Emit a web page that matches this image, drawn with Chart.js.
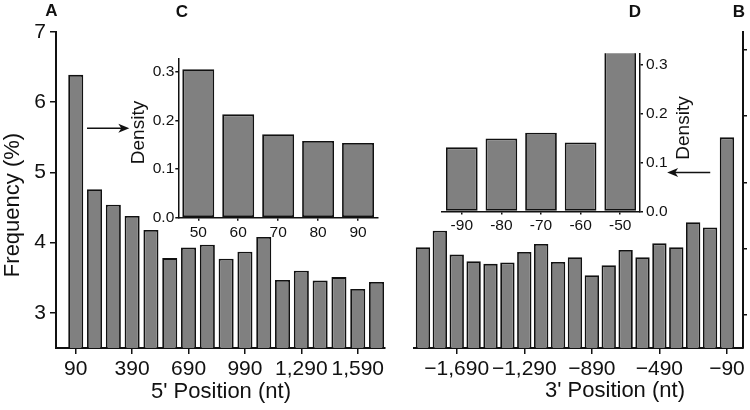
<!DOCTYPE html>
<html>
<head>
<meta charset="utf-8">
<script src="https://cdn.jsdelivr.net/npm/chart.js@4.4.0/dist/chart.umd.min.js"></script>
<style>
body{margin:0;background:#fff;}
#wrap{position:relative;width:750px;height:410px;overflow:hidden;}
canvas{position:absolute;}
#cA{left:0;top:0;}
#cB{left:392px;top:0;}
#cC{left:120px;top:40px;}
#cD{left:420px;top:30px;}
</style>
</head>
<body>
<div id="wrap">
<canvas id="cA" width="392" height="410"></canvas>
<canvas id="cB" width="358" height="410"></canvas>
<canvas id="cC" width="265" height="215"></canvas>
<canvas id="cD" width="280" height="220"></canvas>
</div>
<script>
// 5' end (panel A)
const posA = [90,190,290,390,490,590,690,790,890,990,1090,1190,1290,1390,1490,1590,1690];
const freqA = [6.39,4.76,4.54,4.38,4.18,3.78,3.93,3.97,3.77,3.87,4.08,3.47,3.60,3.46,3.51,3.34,3.44];
const ticksA = [90,390,690,990,1290,1590];

// 3' end (panel B)
const posB = [-1890,-1790,-1690,-1590,-1490,-1390,-1290,-1190,-1090,-990,-890,-790,-690,-590,-490,-390,-290,-190,-90];
const freqB = [4.02,4.27,3.91,3.81,3.77,3.79,3.95,4.07,3.80,3.87,3.60,3.75,3.98,3.87,4.08,4.02,4.40,4.32,5.68];
const ticksB = [-1690,-1290,-890,-490,-90];

const freqTicks = [3,4,5,6,7];

// insets
const catsC = ['50','60','70','80','90'];
const densC = [0.306,0.213,0.172,0.158,0.154];
const catsD = ['-90','-80','-70','-60','-50'];
const densD = [0.131,0.149,0.161,0.141,0.36];
const densTicks = [0,0.1,0.2,0.3];

const GRAY = '#808080';
const FONT = 'Liberation Sans, Arial, sans-serif';
const INK = '#111';

// extra text + arrows drawn on top
const notes = {
  id: 'notes',
  afterDraw(chart, args, o) {
    const ctx = chart.ctx;
    ctx.save();
    ctx.fillStyle = INK; ctx.strokeStyle = INK;
    (o.texts || []).forEach(t => {
      ctx.save();
      ctx.translate(t.x, t.y);
      if (t.rot) ctx.rotate(t.rot);
      ctx.font = (t.bold ? 'bold ' : '') + t.size + 'px ' + FONT;
      ctx.textAlign = 'center'; ctx.textBaseline = 'middle';
      ctx.fillText(t.text, 0, 0);
      ctx.restore();
    });
    (o.arrows || []).forEach(a => {
      const xs = chart.scales.x, ys = chart.scales.y;
      const x1 = xs.getPixelForValue(a.x1), x2 = xs.getPixelForValue(a.x2), y = ys.getPixelForValue(a.y);
      const dir = Math.sign(x2 - x1);
      ctx.lineWidth = 1.6;
      ctx.beginPath(); ctx.moveTo(x1, y); ctx.lineTo(x2 - dir * 6, y); ctx.stroke();
      ctx.beginPath(); ctx.moveTo(x2, y); ctx.lineTo(x2 - dir * 11, y - 4.5); ctx.lineTo(x2 - dir * 8, y); ctx.lineTo(x2 - dir * 11, y + 4.5); ctx.closePath(); ctx.fill();
    });
    ctx.restore();
  }
};

function axisGrid(len) {
  return { display: true, offset: false, drawOnChartArea: false, drawTicks: true, tickLength: len, color: INK, lineWidth: 1.5 };
}
const border = { display: true, color: INK, width: 2 };
const fixTicks = arr => s => { s.ticks = arr.map(v => ({ value: v })); };

function barSet(points, pct) {
  return { data: points, backgroundColor: GRAY, borderColor: INK, borderWidth: 1.8, borderSkipped: false,
           barPercentage: pct, categoryPercentage: 1, clip: 0 };
}

// Panel A
new Chart(document.getElementById('cA'), {
  type: 'bar',
  data: { datasets: [barSet(posA.map((x, i) => ({ x, y: freqA[i] })), 0.8)] },
  options: {
    responsive: false, animation: false,
    layout: { padding: { top: 32, right: 7, left: 0, bottom: 0 } },
    plugins: {
      legend: { display: false }, tooltip: { enabled: false },
      notes: {
        texts: [
          { text: 'A', x: 51.5, y: 11, size: 17, bold: true },
          { text: 'C', x: 182, y: 12, size: 17, bold: true },
          { text: 'Frequency (%)', x: 13, y: 205, size: 22, rot: -Math.PI / 2 },
          { text: "5' Position (nt)", x: 221, y: 392, size: 22 }
        ],
        arrows: [{ x1: 150, x2: 375, y: 5.63 }]
      }
    },
    scales: {
      x: {
        type: 'linear', min: -15, max: 1735, offset: false,
        afterBuildTicks: fixTicks(ticksA), afterFit: s => { s.height = 62; },
        grid: axisGrid(6), border,
        ticks: { autoSkip: false, maxRotation: 0, padding: 3, color: INK, font: { family: FONT, size: 21 },
                 callback: v => v.toLocaleString('en-US') }
      },
      y: {
        min: 2.5, max: 7,
        afterBuildTicks: fixTicks(freqTicks), afterFit: s => { s.width = 56; },
        grid: axisGrid(6), border,
        ticks: { padding: 4, color: INK, font: { family: FONT, size: 21 } }
      }
    }
  },
  plugins: [notes]
});

// Panel B
new Chart(document.getElementById('cB'), {
  type: 'bar',
  data: { datasets: [barSet(posB.map((x, i) => ({ x, y: freqB[i] })), 0.85)] },
  options: {
    responsive: false, animation: false,
    layout: { padding: { top: 32, right: 0, left: 22, bottom: 0 } },
    plugins: {
      legend: { display: false }, tooltip: { enabled: false },
      notes: {
        texts: [
          { text: 'D', x: 243, y: 12, size: 17, bold: true },
          { text: 'B', x: 347, y: 12, size: 17, bold: true },
          { text: "3' Position (nt)", x: 223, y: 391, size: 22 }
        ],
        arrows: [{ x1: -189, x2: -444, y: 5.15 }]
      }
    },
    scales: {
      x: {
        type: 'linear', min: -1943, max: 5, offset: false,
        afterBuildTicks: fixTicks(ticksB), afterFit: s => { s.height = 62; },
        grid: axisGrid(6), border,
        ticks: { autoSkip: false, maxRotation: 0, padding: 3, color: INK, font: { family: FONT, size: 21 },
                 callback: v => (v < 0 ? '\u2212' : '') + Math.abs(v).toLocaleString('en-US') }
      },
      y: {
        position: 'right', min: 2.5, max: 7.27,
        afterBuildTicks: fixTicks(freqTicks), afterFit: s => { s.width = 7; },
        grid: axisGrid(4), border,
        ticks: { display: false }
      }
    }
  },
  plugins: [notes]
});

// Inset C
new Chart(document.getElementById('cC'), {
  type: 'bar',
  data: { labels: catsC, datasets: [barSet(densC, 0.8)] },
  options: {
    responsive: false, animation: false,
    layout: { padding: { top: 19, right: 7, left: 0, bottom: 0 } },
    plugins: {
      legend: { display: false }, tooltip: { enabled: false },
      notes: { texts: [{ text: 'Density', x: 19, y: 92.5, size: 19, rot: -Math.PI / 2 }] }
    },
    scales: {
      x: {
        afterFit: s => { s.height = 37.3; },
        grid: axisGrid(3), border: { ...border, width: 1.5 },
        ticks: { padding: 3, color: INK, font: { family: FONT, size: 15.5 } }
      },
      y: {
        min: 0, max: 0.327,
        afterBuildTicks: fixTicks(densTicks), afterFit: s => { s.width = 58.3; },
        grid: axisGrid(3), border: { ...border, width: 1.5 },
        ticks: { padding: 1, color: INK, font: { family: FONT, size: 15.5 }, callback: v => v.toFixed(1) }
      }
    }
  },
  plugins: [notes]
});

// Inset D
new Chart(document.getElementById('cD'), {
  type: 'bar',
  data: { labels: catsD, datasets: [barSet(densD, 0.8)] },
  options: {
    responsive: false, animation: false,
    layout: { padding: { top: 23.3, right: 0, left: 22, bottom: 0 } },
    plugins: {
      legend: { display: false }, tooltip: { enabled: false },
      notes: { texts: [{ text: 'Density', x: 263.5, y: 98, size: 19, rot: -Math.PI / 2 }] }
    },
    scales: {
      x: {
        afterFit: s => { s.height = 38.5; },
        grid: axisGrid(3), border: { ...border, width: 1.5 },
        ticks: { padding: 1.5, color: INK, font: { family: FONT, size: 15.5 } }
      },
      y: {
        position: 'right', min: 0, max: 0.323,
        afterBuildTicks: fixTicks(densTicks), afterFit: s => { s.width = 60; },
        grid: axisGrid(3), border: { ...border, width: 1.5 },
        ticks: { padding: 3, color: INK, font: { family: FONT, size: 15.5 }, callback: v => v.toFixed(1) }
      }
    }
  },
  plugins: [notes]
});
</script>
</body>
</html>
